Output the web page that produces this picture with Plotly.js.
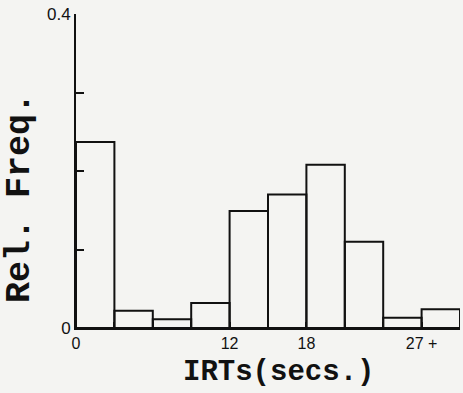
<!DOCTYPE html>
<html>
<head>
<meta charset="utf-8">
<script src="https://cdn.plot.ly/plotly-3.0.1.min.js"></script>
<style>html,body{margin:0;padding:0;background:#f4f4f2;}</style>
</head>
<body>
<div id="chart" style="width:463px;height:393px;"></div>
<script>
// IRT bins (seconds): bin start of each 3-second bin, last is 27+
var binStarts = [0, 3, 6, 9, 12, 15, 18, 21, 24, 27];
var relFreq = [0.237, 0.022, 0.011, 0.032, 0.149, 0.170, 0.208, 0.110, 0.013, 0.024];
var xTickVals = [0, 3, 6, 9, 12, 15, 18, 21, 24, 27];
var xTickText = ["0", "", "", "", "12", "", "18", "", "", "27 +"];
var yTickVals = [0, 0.1, 0.2, 0.3, 0.4];
var yTickText = ["0", "", "", "", "0.4"];

var trace = {
  type: 'bar',
  x: binStarts,
  y: relFreq,
  width: 3,
  offset: 0,
  marker: {color: 'rgba(0,0,0,0)', line: {color: '#111', width: 2}},
  hoverinfo: 'none'
};

var layout = {
  width: 463, height: 393,
  margin: {l: 76, r: 3, t: 14, b: 65},
  paper_bgcolor: '#f4f4f2',
  plot_bgcolor: '#f4f4f2',
  showlegend: false,
  xaxis: {
    range: [0, 30], showgrid: false, zeroline: false,
    showline: true, linecolor: '#111', linewidth: 2,
    tickmode: 'array', tickvals: xTickVals, ticktext: xTickText,
    ticks: 'inside', ticklen: 6, tickwidth: 2, tickcolor: '#111',
    tickfont: {family: 'Liberation Sans, Arial, sans-serif', size: 16, color: '#111'}
  },
  yaxis: {
    range: [0, 0.4], showgrid: false, zeroline: false,
    showline: true, linecolor: '#111', linewidth: 2,
    tickmode: 'array', tickvals: yTickVals, ticktext: yTickText,
    ticks: 'inside', ticklen: 8, tickwidth: 2, tickcolor: '#111',
    tickfont: {family: 'Liberation Sans, Arial, sans-serif', size: 17, color: '#111'}
  },
  annotations: [
    {text: '<b>IRTs(secs.)</b>', xref: 'paper', yref: 'paper', x: 0.527, y: -0.142,
     xanchor: 'center', yanchor: 'middle', showarrow: false,
     font: {family: 'Liberation Mono, Courier New, monospace', size: 29, color: '#111'}},
    {text: '<b>Rel. Freq.</b>', xref: 'paper', yref: 'paper', x: -0.146, y: 0.414,
     xanchor: 'center', yanchor: 'middle', textangle: -90, showarrow: false,
     font: {family: 'Liberation Mono, Courier New, monospace', size: 35, color: '#111'}}
  ]
};

Plotly.newPlot('chart', [trace], layout, {displayModeBar: false, staticPlot: true});
</script>
</body>
</html>
